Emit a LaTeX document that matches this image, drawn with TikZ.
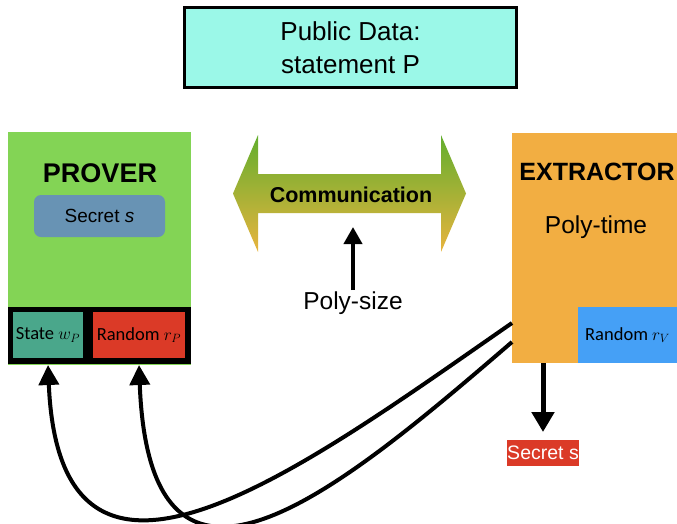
\documentclass[tikz,border=0pt]{standalone}
\usepackage{fontspec}
\setmainfont{Liberation Sans}
\newfontfamily\carl{Carlito}
\usetikzlibrary{arrows.meta,calc}
\definecolor{pubcyan}{HTML}{9BF8E8}
\definecolor{provgreen}{HTML}{83D455}
\definecolor{secblue}{HTML}{6893B4}
\definecolor{stateteal}{HTML}{4AA78B}
\definecolor{randred}{HTML}{DB3A27}
\definecolor{extorange}{HTML}{F2AE42}
\definecolor{randblue}{HTML}{45A0F6}
\definecolor{commgreen}{HTML}{62AE2E}
\definecolor{commorange}{HTML}{E8B43E}
\newcommand{\fsz}[1]{\fontsize{#1}{#1}\selectfont}
\newcommand{\fszb}[2]{\fontsize{#1}{#2}\selectfont}
\begin{document}
\begin{tikzpicture}[x=1pt,y=-1pt,
  box/.style={rectangle,inner sep=0pt,outer sep=0pt},
  conn/.style={line width=4pt,-{Triangle[length=20pt,width=20pt]}},
  smalllbl/.style={font=\carl\fsz{18.5}}]
\useasboundingbox (0,0) rectangle (677,523);
% public data
\node[box,draw=black,line width=3pt,fill=pubcyan,minimum width=332pt,minimum height=80pt,
  align=center,font=\fszb{26}{33}] (pub) at (350.5,47.5) {Public Data:\\statement P};
% prover
\node[box,fill=provgreen,minimum width=183pt,minimum height=233pt,anchor=north west] (prover) at (8,132) {};
\node[font=\fsz{27}\bfseries] (provlbl) at (100,173) {PROVER};
\node[box,fill=secblue,rounded corners=7pt,minimum width=131pt,minimum height=42pt,font=\fsz{19}] (secret) at (99.5,216) {Secret \textit{s}};
\node[box,fill=black,minimum width=183pt,minimum height=57pt,anchor=north west] (strip) at (8,307) {};
\node[box,fill=stateteal,minimum width=70pt,minimum height=46pt,smalllbl] (state) at (48,335) {State $w_P$};
\node[box,fill=randred,minimum width=92pt,minimum height=46pt,smalllbl] (randp) at (139,335) {Random $r_P$};
% extractor
\node[box,fill=extorange,minimum width=165pt,minimum height=230pt,anchor=north west] (ext) at (512,133) {};
\node[font=\fsz{25}\bfseries] (extlbl) at (597,172) {EXTRACTOR};
\node[font=\fsz{24.5}] (ptime) at (596,227) {Poly-time};
\node[box,fill=randblue,minimum width=99pt,minimum height=56pt,anchor=north west,smalllbl] (randv) at (578,307) {Random $r_V$};
% communication double arrow
\shade[top color=commgreen,bottom color=commorange,middle color=commgreen!50!commorange]
  (233,193.5) -- (258,135) -- (258,174) -- (441,174) -- (441,135) -- (466,193.5)
  -- (441,252) -- (441,213) -- (258,213) -- (258,252) -- cycle;
\node[font=\fsz{21.5}\bfseries] (comm) at (351,195) {Communication};
\coordinate (commbot) at (353,227);
\node[font=\fsz{24.5}] (psize) at (353,303) {Poly-size};
\draw[line width=4pt,-{Triangle[length=17pt,width=18pt]}] ([yshift=-2pt]psize.north) -- (commbot);
% secret output
\node[box,fill=randred,minimum width=72pt,minimum height=26pt,text=white,font=\fsz{19.5}] (secout) at (543,453) {Secret s};
\draw[line width=5pt,-{Triangle[length=20pt,width=22pt]},shorten >=8pt] (ext.south -| secout) -- (secout.north);
% extraction curves
\coordinate (e1) at (512,323);
\coordinate (e2) at (512,342);
\draw[conn] (e1) .. controls (300,470) and (60,650) .. ([yshift=-7pt]state.south);
\draw[conn] (e2) .. controls (340,490) and (150,650) .. ([yshift=-7pt]randp.south);
\end{tikzpicture}
\end{document}
